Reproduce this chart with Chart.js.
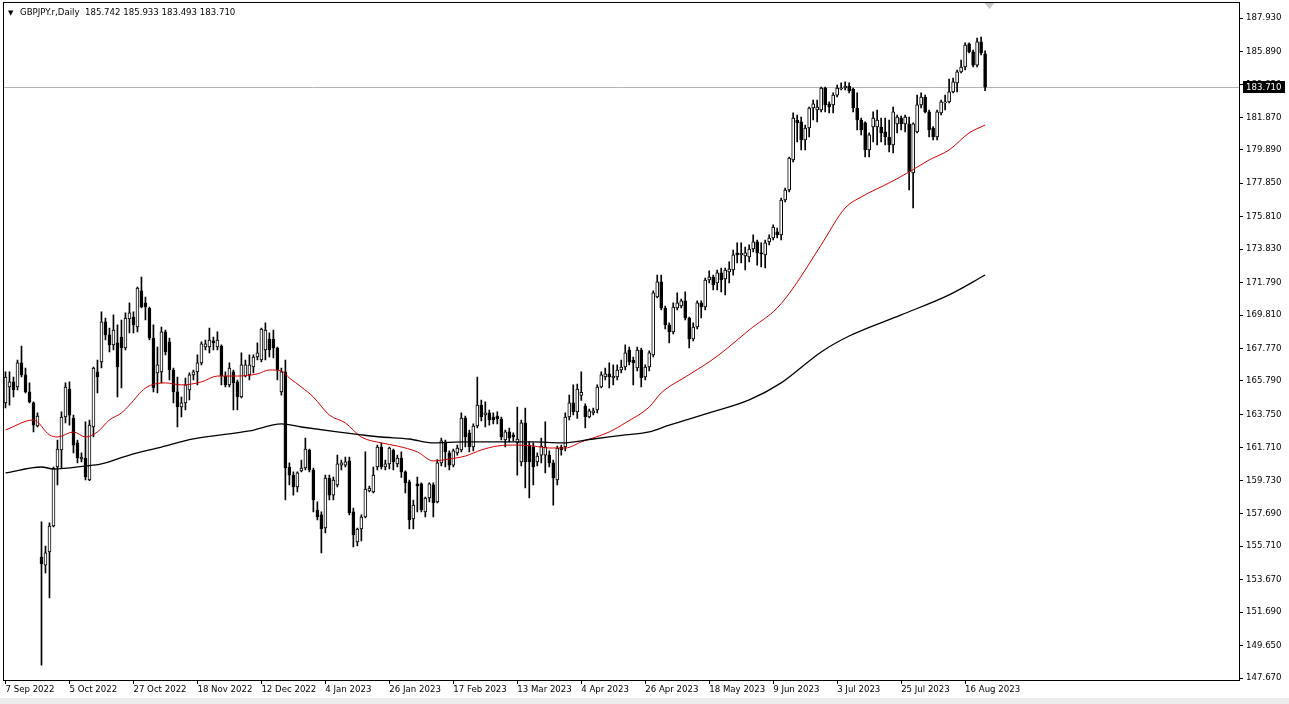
<!DOCTYPE html>
<html>
<head>
<meta charset="utf-8">
<script src="https://cdn.jsdelivr.net/npm/chart.js@4.4.0/dist/chart.umd.min.js"></script>
<style>
html, body { margin: 0; padding: 0; background: #fff; }
#wrap { width: 1289px; height: 704px; position: relative; }
</style>
</head>
<body>
<div id="wrap"><canvas id="chart"></canvas></div>
<script>
// GBPJPY daily candles
const symbolTitle = 'GBPJPY.r,Daily';
const lastQuote = ['185.742', '185.933', '183.493', '183.710'];
const bidPrice = 183.710;

const dateLabels = ['7 Sep 2022', '5 Oct 2022', '27 Oct 2022', '18 Nov 2022', '12 Dec 2022', '4 Jan 2023',
    '26 Jan 2023', '17 Feb 2023', '13 Mar 2023', '4 Apr 2023', '26 Apr 2023', '18 May 2023',
    '9 Jun 2023', '3 Jul 2023', '25 Jul 2023', '16 Aug 2023'];
const dateTickBars = [0, 16, 32, 48, 64, 80, 96, 112, 128, 144, 160, 176, 192, 208, 224, 240];

const priceTicks = [187.930, 185.890, 183.850, 181.870, 179.890, 177.850, 175.810, 173.830, 171.790, 169.810,
    167.770, 165.790, 163.750, 161.710, 159.730, 157.690, 155.710, 153.670, 151.690, 149.650, 147.670];
const priceMin = 147.548;
const priceMax = 188.906;
const slotCount = 309; // bars that fit in the window incl. the shifted empty space

const opens = [
    164.45,165.42,165.73,165.42,166.89,166.16,165.12,164.45,163.04,155.05,
    154.56,155.36,156.94,160.54,161.58,163.59,165.30,163.53,162.01,161.03,
    161.09,159.75,162.98,166.34,166.95,169.39,168.60,167.99,168.11,168.47,
    167.80,169.57,169.69,169.08,171.28,170.55,170.24,168.41,166.28,166.34,
    168.78,168.17,166.46,165.12,164.20,164.45,165.24,166.16,166.34,166.89,
    167.86,167.86,168.23,167.86,167.92,166.09,165.55,166.34,165.73,164.81,
    166.09,166.16,166.64,167.25,167.07,167.68,168.35,168.35,167.80,165.12,
    166.34,160.54,160.05,159.32,160.30,160.48,161.58,160.36,157.92,157.62,
    156.82,159.87,158.83,159.45,160.66,160.66,160.91,157.80,155.97,156.76,
    157.49,159.08,159.02,160.54,161.76,160.54,160.73,161.58,160.73,161.09,
    160.24,159.63,157.37,159.51,159.51,157.80,158.65,159.45,158.41,160.79,
    162.07,161.40,160.66,161.40,161.58,163.53,162.62,161.76,163.04,164.32,
    163.72,163.84,163.59,163.65,163.47,162.19,162.68,162.50,162.01,160.85,
    163.23,161.88,161.76,160.85,161.27,161.27,161.27,160.79,159.75,161.76,
    161.76,163.59,164.45,163.90,164.90,164.26,163.59,163.84,164.02,165.42,
    166.03,166.22,165.97,166.03,166.46,166.64,167.68,167.07,166.58,167.68,
    166.03,166.64,167.38,170.91,171.83,170.24,169.21,168.78,170.24,170.36,
    170.67,169.63,168.35,169.08,170.55,170.30,171.95,172.13,171.77,172.38,
    172.01,172.44,172.56,173.60,173.50,173.42,173.35,173.84,174.27,173.60,
    173.48,174.27,174.51,174.88,174.70,176.83,177.44,179.27,181.71,181.59,
    180.49,181.22,182.44,182.32,182.32,183.66,182.69,182.63,183.23,183.60,
    183.66,183.78,183.60,182.44,181.71,181.53,179.88,181.28,181.28,181.28,
    180.98,180.67,180.19,181.47,181.83,181.47,181.47,178.48,180.98,182.63,
    183.11,182.20,181.22,180.67,182.14,182.75,182.81,183.42,183.97,184.64,
    184.94,186.35,185.86,185.06,186.47,185.742
];
const highs = [
    166.34,166.34,166.03,167.07,167.92,166.58,165.67,164.51,163.84,157.19,
    155.72,157.13,160.54,162.19,163.90,165.67,165.73,163.71,162.19,161.40,
    163.29,163.41,166.64,167.07,170.00,169.63,169.02,169.82,169.21,169.51,
    169.94,170.55,170.00,171.52,172.13,170.91,170.30,169.21,167.86,169.08,
    168.90,168.41,166.58,166.03,164.81,165.97,166.28,166.46,167.38,168.17,
    168.29,169.02,168.47,168.78,167.99,166.34,166.89,166.46,165.85,167.50,
    167.07,167.38,167.38,168.11,169.02,169.33,168.72,168.90,167.86,166.58,
    167.07,160.79,160.24,160.24,160.97,162.31,161.64,160.48,158.41,157.80,
    160.05,160.05,159.93,161.27,160.97,161.15,161.15,158.04,156.82,157.62,
    161.46,159.38,160.54,161.88,162.01,160.97,161.76,161.64,161.27,161.46,
    160.30,159.75,158.53,159.93,159.57,158.71,159.57,159.57,161.00,162.31,
    162.19,161.52,161.64,161.88,163.84,163.65,162.80,163.17,166.03,164.63,
    164.51,164.02,163.84,163.90,163.59,162.80,162.92,162.62,164.20,163.41,
    164.14,162.07,162.01,161.40,162.31,163.29,161.52,160.97,161.82,161.88,
    163.84,164.93,165.55,165.60,166.34,164.39,164.08,164.14,165.55,166.34,
    166.58,166.89,166.77,166.77,167.07,167.99,167.86,167.25,167.86,167.80,
    166.77,167.62,171.28,172.25,172.25,170.36,169.33,170.55,171.16,170.79,
    171.22,169.69,169.33,170.67,170.67,172.07,172.50,172.25,172.56,172.68,
    172.68,173.05,173.78,174.21,174.21,173.96,174.09,174.70,174.39,174.21,
    174.39,174.70,175.31,175.12,176.95,177.56,179.45,182.14,182.01,181.89,
    181.40,182.50,182.93,182.93,183.72,183.72,182.81,183.36,183.84,183.97,
    184.03,183.97,183.66,183.36,181.83,181.59,180.92,182.20,182.32,181.83,
    181.83,181.71,182.50,182.01,181.95,182.01,181.89,181.53,183.23,183.36,
    183.23,182.32,181.30,182.32,182.93,183.23,184.21,184.27,184.76,185.37,
    186.41,186.41,185.98,186.71,186.77,185.933
];
const lows = [
    164.14,164.32,164.81,165.24,166.03,165.06,164.45,162.68,162.98,148.46,
    154.08,152.55,156.88,159.45,160.48,163.23,163.10,161.40,160.79,160.85,
    159.75,159.70,162.37,165.06,166.58,168.29,167.56,167.68,164.81,165.36,
    167.68,168.72,168.72,168.78,170.24,169.51,168.29,165.12,165.06,165.67,
    167.38,165.85,164.45,162.98,163.59,164.02,164.63,165.85,165.55,166.77,
    167.68,167.50,167.68,167.68,165.55,165.42,165.42,164.02,164.02,164.75,
    166.03,165.85,166.28,167.07,166.95,167.07,167.25,167.19,165.85,164.93,
    158.53,159.45,158.83,159.02,160.24,160.36,160.24,157.80,157.31,155.30,
    156.52,158.53,158.53,159.32,160.36,160.54,157.62,155.66,155.72,156.03,
    157.43,159.02,158.96,160.36,160.42,160.36,160.42,160.36,160.54,159.90,
    158.96,156.76,156.76,157.80,157.80,157.49,158.41,157.49,158.35,160.60,
    160.54,160.36,160.54,161.27,161.46,161.76,161.46,161.52,162.92,163.35,
    162.98,163.10,163.17,163.17,162.19,161.76,162.07,162.13,160.05,160.60,
    159.26,158.65,159.45,160.60,160.79,160.18,160.54,158.22,159.45,161.27,
    161.52,163.41,163.72,163.50,164.60,162.92,163.53,163.72,163.84,165.36,
    165.85,165.36,165.55,165.85,166.28,166.46,166.77,165.55,166.40,165.42,
    165.85,166.40,167.25,170.85,170.12,168.96,168.11,168.66,170.12,170.24,
    169.51,167.80,168.23,168.96,169.63,170.12,171.77,171.34,171.34,171.22,
    171.04,171.77,172.25,172.99,172.99,172.56,173.05,173.66,172.86,172.74,
    172.68,174.09,174.39,174.51,174.39,176.71,177.32,179.15,180.37,179.88,
    179.88,180.67,181.71,181.59,182.20,182.20,182.14,182.14,183.11,183.54,
    183.54,183.36,182.20,181.10,180.80,179.45,179.45,180.37,180.19,180.37,
    180.19,179.76,179.70,180.92,181.10,180.98,177.44,176.34,180.92,182.44,
    182.14,180.67,180.49,180.49,182.02,182.32,182.75,183.36,183.42,184.58,
    184.76,185.80,184.94,184.94,185.68,183.493
];
const closes = [
    166.03,165.73,165.24,166.89,166.16,165.12,164.51,163.10,163.65,154.63,
    155.30,156.94,160.48,161.64,163.59,165.42,163.71,161.88,161.09,161.15,
    159.93,163.10,166.58,166.03,169.39,168.60,167.99,168.90,166.64,167.80,
    169.63,169.94,169.21,171.46,170.30,170.30,168.41,165.36,166.77,168.78,
    167.56,166.46,165.12,164.20,164.45,165.55,166.16,166.34,166.89,168.05,
    168.05,168.29,168.11,168.29,166.09,165.55,166.58,165.67,164.81,166.77,
    166.77,166.77,167.25,167.50,168.96,168.90,167.68,167.80,166.46,166.34,
    160.48,160.05,159.32,160.18,160.48,161.64,160.36,158.53,157.49,156.76,
    159.87,158.83,159.75,160.73,160.79,160.85,157.74,156.40,156.76,157.49,
    159.20,159.26,160.05,161.76,160.54,160.73,161.70,160.85,161.09,160.24,
    159.57,157.31,158.22,159.38,157.92,158.65,159.51,158.35,160.79,162.13,
    161.46,160.66,161.52,161.70,163.53,162.37,161.76,163.04,164.32,163.59,
    163.84,163.41,163.41,163.47,162.37,162.68,162.31,162.37,162.25,163.23,
    160.85,160.85,160.54,161.21,161.82,161.76,160.79,159.87,161.70,161.58,
    163.59,164.45,163.90,165.30,165.10,163.59,163.96,163.96,165.42,166.16,
    166.22,166.03,166.09,166.46,166.64,167.50,166.95,166.89,167.68,165.97,
    166.64,167.50,171.16,171.83,170.24,169.21,168.78,170.30,170.55,170.67,
    169.63,168.35,169.08,170.55,170.30,171.95,172.13,171.65,172.38,171.95,
    172.56,172.62,173.48,173.48,173.57,173.60,173.84,174.27,173.60,173.54,
    174.21,174.51,175.18,174.70,176.83,177.44,179.39,181.83,181.53,180.49,
    181.22,182.44,182.69,182.50,183.66,182.63,182.50,183.23,183.66,183.66,
    183.78,183.48,182.44,181.71,181.10,179.88,180.80,181.83,181.71,180.92,
    180.67,180.19,182.20,181.89,181.47,181.89,178.54,181.47,182.63,183.11,
    182.20,181.10,180.67,182.20,182.81,182.81,183.42,184.03,184.64,184.94,
    186.28,185.86,185.06,186.47,185.80,183.710
];

// moving averages, sampled along the drawn lines (bar index -> value)
const maFastBars = [0,7,11,13,17,20,23,26,29,31,35,40,44,49,53,58,63,66,69,71,74,77,81,85,89,94,98,103,107,111,
    115,119,123,128,132,136,140,144,151,155,161,164,170,176,180,186,193,197,204,210,214,221,226,231,236,241,245];
const maFastValues = [162.80,163.41,162.50,162.37,162.68,162.37,162.68,163.41,163.84,164.32,
    165.36,165.67,165.55,165.73,166.09,166.09,166.22,166.46,166.40,165.97,
    165.42,164.81,163.71,163.23,162.37,162.01,161.82,161.46,160.91,161.03,
    161.21,161.58,161.82,161.88,161.82,161.70,161.70,162.07,162.68,163.23,
    164.20,165.06,166.03,166.95,167.68,168.90,170.24,171.46,174.09,176.34,
    177.01,177.87,178.54,179.27,179.88,180.92,181.40];
const maSlowBars = [0,9,12,20,24,31,39,47,61,69,74,83,89,94,101,107,115,124,132,139,147,155,161,166,176,186,194,204,211,224,236,245];
const maSlowValues = [160.18,160.54,160.42,160.60,160.73,161.27,161.76,162.25,162.74,163.17,
    162.98,162.68,162.50,162.37,162.25,162.01,162.07,162.07,162.07,162.01,
    162.25,162.50,162.68,163.10,163.84,164.63,165.67,167.56,168.53,169.82,171.04,172.25];

const uiFont = '"DejaVu Sans", Tahoma, sans-serif';
Chart.defaults.font.family = uiFont;
Chart.defaults.font.size = 8.6;
Chart.defaults.color = '#000';

const labels = Array.from({ length: slotCount }, (_, i) => i);
const bodyData = opens.map((o, i) => [o, closes[i]]);
const wickData = lows.map((l, i) => [l, highs[i]]);
const bodyFill = opens.map((o, i) => closes[i] >= o ? '#ffffff' : '#000000');

const mt4Plugin = {
    id: 'mt4',
    beforeDraw(chart) {
        const c = chart.ctx;
        c.save();
        c.fillStyle = '#ffffff';
        c.fillRect(0, 0, chart.width, chart.height);
        c.fillStyle = '#ececec';
        c.fillRect(0, chart.height - 6, chart.width, 6);
        c.restore();
    },
    beforeDatasetsDraw(chart) {
        const c = chart.ctx, a = chart.chartArea;
        const y = Math.round(chart.scales.y.getPixelForValue(bidPrice)) + 0.5;
        c.save();
        c.strokeStyle = '#b4b4b4';
        c.lineWidth = 1;
        c.beginPath();
        c.moveTo(a.left, y);
        c.lineTo(a.right, y);
        c.stroke();
        c.restore();
    },
    afterDraw(chart) {
        const c = chart.ctx, a = chart.chartArea;
        c.save();
        // frame
        c.strokeStyle = '#000';
        c.lineWidth = 1;
        c.strokeRect(Math.floor(a.left) + 0.5, Math.floor(a.top) + 0.5,
            Math.round(a.right) - Math.floor(a.left), Math.round(a.bottom) - Math.floor(a.top));

        // current price box on the axis
        const y = Math.round(chart.scales.y.getPixelForValue(bidPrice));
        c.fillStyle = '#000';
        c.fillRect(Math.round(a.right) + 4, y - 6, 42, 12);
        c.fillStyle = '#fff';
        c.font = '8.6px ' + uiFont;
        c.textBaseline = 'middle';
        c.textAlign = 'left';
        c.fillText(bidPrice.toFixed(3), Math.round(a.right) + 7, y + 0.5);

        // header
        c.fillStyle = '#000';
        c.font = '7px ' + uiFont;
        c.fillText('▼', 8, 13);
        c.font = '8.6px ' + uiFont;
        c.fillText(symbolTitle + '  ' + lastQuote.join(' '), 20, 13);

        // chart shift marker
        const sx = Math.round(chart.scales.x.getPixelForValue(opens.length)) + 0.5;
        c.fillStyle = '#c8c8c8';
        c.beginPath();
        c.moveTo(sx - 5, a.top + 1);
        c.lineTo(sx + 5, a.top + 1);
        c.lineTo(sx, a.top + 7);
        c.closePath();
        c.fill();
        c.restore();
    }
};

new Chart(document.getElementById('chart'), {
    type: 'bar',
    data: {
        labels: labels,
        datasets: [
            {
                type: 'line',
                label: 'MA 200',
                data: maSlowBars.map((b, k) => ({ x: b, y: maSlowValues[k] })),
                borderColor: '#000000',
                borderWidth: 1.3,
                pointRadius: 0,
                cubicInterpolationMode: 'monotone',
                order: 0
            },
            {
                type: 'line',
                label: 'MA 50',
                data: maFastBars.map((b, k) => ({ x: b, y: maFastValues[k] })),
                borderColor: '#d40000',
                borderWidth: 1,
                pointRadius: 0,
                cubicInterpolationMode: 'monotone',
                order: 0
            },
            {
                label: 'body',
                data: bodyData,
                backgroundColor: bodyFill,
                borderColor: '#000000',
                borderWidth: 1,
                borderSkipped: false,
                barThickness: 3,
                grouped: false,
                order: 1
            },
            {
                label: 'wick',
                data: wickData,
                backgroundColor: '#000000',
                borderWidth: 0,
                barThickness: 1,
                grouped: false,
                order: 2
            }
        ]
    },
    options: {
        responsive: true,
        maintainAspectRatio: false,
        animation: false,
        events: [],
        layout: { padding: { left: 3.5, top: 2, right: 0, bottom: 0 } },
        plugins: { legend: { display: false }, tooltip: { enabled: false } },
        scales: {
            x: {
                type: 'category',
                offset: true,
                grid: { drawOnChartArea: false, drawTicks: true, tickLength: 4, color: '#000', offset: false },
                border: { display: false },
                ticks: {
                    autoSkip: false, maxRotation: 0, minRotation: 0, align: 'start', padding: 1,
                    callback: (v) => dateLabels[dateTickBars.indexOf(v)]
                },
                afterBuildTicks: (s) => { s.ticks = dateTickBars.map(v => ({ value: v })); },
                afterFit: (s) => { s.height = 24; s.paddingLeft = 0; s.paddingRight = 0; }
            },
            y: {
                position: 'right',
                min: priceMin,
                max: priceMax,
                grid: { drawOnChartArea: false, drawTicks: true, tickLength: 4, color: '#000' },
                border: { display: false },
                ticks: { padding: 3, callback: (v) => v.toFixed(3) },
                afterBuildTicks: (s) => { s.ticks = priceTicks.map(v => ({ value: v })); },
                afterFit: (s) => { s.width = 50; s.paddingTop = 0; s.paddingBottom = 0; }
            }
        }
    },
    plugins: [mt4Plugin]
});
</script>
</body>
</html>
